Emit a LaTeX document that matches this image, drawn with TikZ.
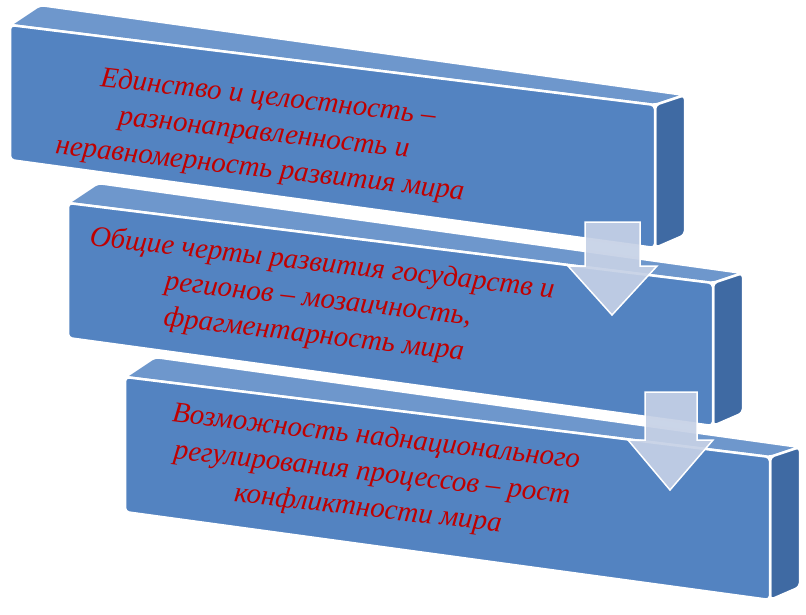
\documentclass[tikz,border=0pt]{standalone}
\usepackage{fontspec}
\setmainfont{Liberation Serif}
\definecolor{frontblue}{HTML}{5383C1}
\definecolor{topblue}{HTML}{6E97CC}
\definecolor{sideblue}{HTML}{3F6AA3}
\definecolor{arrowfill}{HTML}{C6D1E6}
\definecolor{textred}{HTML}{C00000}
\begin{document}
\begin{tikzpicture}[
    x=1pt, y=-1pt,
    face/.style={draw=white, line width=2.5pt, line join=round, rounded corners=4pt},
    arrowbox/.style={fill=arrowfill, draw=white, line width=1.5pt, fill opacity=0.92},
    label/.style={font=\itshape\fontsize{29}{36}\selectfont, text=textred, align=center, rotate=-6.5}
]
    \useasboundingbox (0,0) rectangle (806,614);
    % boxes
    \foreach \dx/\dy in {0/0, 58/178, 115/352} {
        \begin{scope}[shift={(\dx,\dy)}]
            \fill[topblue, face] (10,25) -- (40,5) -- (685,95) -- (655,105) -- cycle;
            \fill[sideblue, face] (655,105) -- (685,95) -- (685,235) -- (655,248) -- cycle;
            \fill[frontblue, face] (10,25) -- (655,105) -- (655,248) -- (10,160) -- cycle;
        \end{scope}
    }
    \node[label] (t1) at (264,134) {Единство и целостность –\\разнонаправленность и\\неравномерность развития мира};
    \node[label] (t2) at (318,300) {Общие черты развития государств и\\регионов – мозаичность,\\фрагментарность мира};
    \node[label] (t3) at (372,474) {Возможность наднационального\\регулирования процессов – рост\\конфликтности мира};
    % arrows
    \draw[arrowbox] (585,222) -- (640,222) -- (640,266) -- (657,266) -- (612,315) -- (568,266) -- (585,266) -- cycle;
    \draw[arrowbox] (645,392) -- (697,392) -- (697,440) -- (713,440) -- (670,490) -- (628,440) -- (645,440) -- cycle;
\end{tikzpicture}
\end{document}
